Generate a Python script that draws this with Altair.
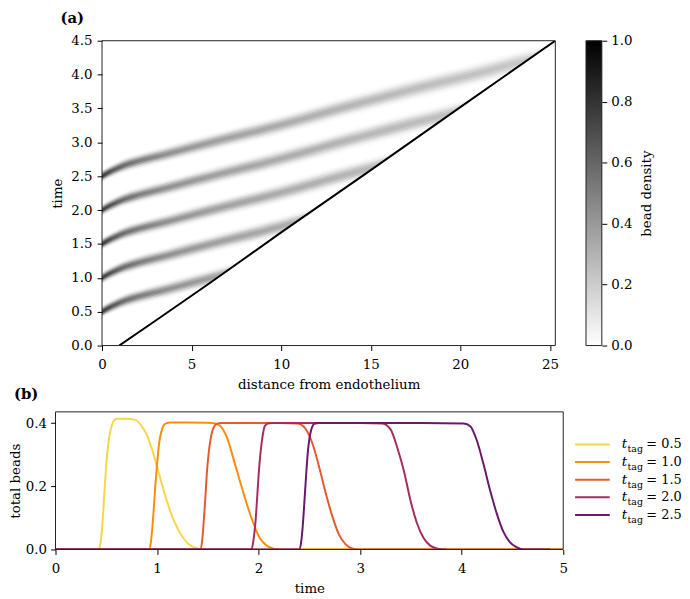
import altair as alt
import pandas as pd

FONT = "DejaVu Serif"
FS = 13.5

# ---------------- panel (a): bead density stripes ----------------
grid_x = [0, 0.4, 0.8, 1.2, 1.6, 2.5, 3.5, 5, 7, 9, 11, 13, 15, 17, 19, 21, 23, 25.3]
stripe_t05 = [0.50, 0.56, 0.61, 0.655, 0.69, 0.755, 0.82, 0.925, 1.06, 1.19, 1.33, 1.48, 1.62, 1.76, 1.89, 2.02, 2.16, 2.30]
stripe_t10 = [1.00, 1.06, 1.11, 1.155, 1.19, 1.255, 1.32, 1.425, 1.56, 1.69, 1.83, 1.98, 2.12, 2.26, 2.39, 2.52, 2.66, 2.80]
stripe_t15 = [1.50, 1.56, 1.61, 1.655, 1.69, 1.755, 1.82, 1.925, 2.06, 2.19, 2.33, 2.48, 2.62, 2.76, 2.89, 3.02, 3.16, 3.30]
stripe_t20 = [2.00, 2.06, 2.11, 2.155, 2.19, 2.255, 2.32, 2.425, 2.56, 2.69, 2.83, 2.98, 3.12, 3.26, 3.39, 3.52, 3.66, 3.80]
stripe_t25 = [2.50, 2.56, 2.61, 2.655, 2.69, 2.755, 2.82, 2.925, 3.06, 3.19, 3.33, 3.48, 3.62, 3.76, 3.89, 4.02, 4.16, 4.30]
stripe_width = [0.036, 0.038, 0.040, 0.042, 0.044, 0.046, 0.048, 0.051, 0.054, 0.057,
                0.059, 0.061, 0.063, 0.065, 0.066, 0.067, 0.068, 0.069]
stripe_names = ["0.5", "1.0", "1.5", "2.0", "2.5"]
stripe_centres = [stripe_t05, stripe_t10, stripe_t15, stripe_t20, stripe_t25]

front_x = [0.96, 3.0, 6.0, 10.0, 15.0, 20.0, 25.3]
front_t = [0.0, 0.37, 0.92, 1.67, 2.59, 3.52, 4.5]

# ---------------- panel (b): total beads ----------------
tag_labels = ["0.5", "1.0", "1.5", "2.0", "2.5"]
tag_colors = ["#f6d746", "#f98e09", "#e45a31", "#a52c60", "#6a176e"]

t_05 = [0, 0.42, 0.44, 0.455, 0.47, 0.485, 0.50, 0.52, 0.54, 0.56, 0.58, 0.61, 0.70, 0.78, 0.85,
        0.90, 0.95, 1.00, 1.05, 1.10, 1.15, 1.20, 1.25, 1.30, 1.35, 1.40, 1.46, 5.0]
v_05 = [0, 0, 0.015, 0.055, 0.12, 0.20, 0.27, 0.335, 0.375, 0.398, 0.41, 0.414, 0.414, 0.411, 0.39,
        0.362, 0.318, 0.262, 0.205, 0.15, 0.104, 0.068, 0.040, 0.020, 0.009, 0.003, 0, 0]
t_10 = [0, 0.92, 0.94, 0.955, 0.97, 0.985, 1.00, 1.02, 1.04, 1.06, 1.09, 1.13, 1.30, 1.50, 1.57,
        1.62, 1.69, 1.75, 1.82, 1.88, 1.95, 2.01, 2.08, 2.14, 2.21, 5.0]
v_10 = [0, 0, 0.025, 0.075, 0.14, 0.21, 0.27, 0.335, 0.37, 0.39, 0.399, 0.402, 0.402, 0.401, 0.399,
        0.392, 0.353, 0.29, 0.212, 0.148, 0.082, 0.037, 0.012, 0.003, 0, 0]
t_15 = [0, 1.425, 1.445, 1.46, 1.475, 1.49, 1.51, 1.53, 1.55, 1.58, 1.63, 1.90, 2.20, 2.38,
        2.42, 2.467, 2.532, 2.597, 2.662, 2.727, 2.792, 2.857, 2.922, 2.99, 5.0]
v_15 = [0, 0, 0.03, 0.09, 0.16, 0.24, 0.31, 0.355, 0.38, 0.396, 0.40, 0.40, 0.40, 0.399,
        0.395, 0.38, 0.334, 0.26, 0.177, 0.104, 0.047, 0.016, 0.003, 0, 0]
t_20 = [0, 1.93, 1.95, 1.97, 1.985, 2.00, 2.02, 2.04, 2.06, 2.09, 2.13, 2.60, 3.00, 3.22,
        3.30, 3.365, 3.43, 3.495, 3.56, 3.625, 3.69, 3.755, 3.82, 3.85]
v_20 = [0, 0, 0.03, 0.09, 0.16, 0.235, 0.31, 0.36, 0.39, 0.399, 0.40, 0.40, 0.40, 0.399,
        0.38, 0.323, 0.25, 0.156, 0.083, 0.036, 0.012, 0.003, 0, 0]
t_25 = [0, 2.40, 2.418, 2.435, 2.45, 2.467, 2.483, 2.50, 2.515, 2.53, 2.548, 2.60, 3.00, 3.60,
        4.02, 4.085, 4.15, 4.214, 4.279, 4.344, 4.409, 4.474, 4.539, 4.60, 4.87]
v_25 = [0, 0, 0.021, 0.075, 0.146, 0.23, 0.302, 0.35, 0.375, 0.39, 0.398, 0.40, 0.40, 0.40,
        0.399, 0.39, 0.344, 0.271, 0.188, 0.115, 0.057, 0.023, 0.007, 0, 0]
curves_t = [t_05, t_10, t_15, t_20, t_25]
curves_v = [v_05, v_10, v_15, v_20, v_25]

# ---------------- tables ----------------
stripes_df = pd.DataFrame(
    [{"stripe": n, "x": x, "c": c, "s": s}
     for n, cs in zip(stripe_names, stripe_centres)
     for x, c, s in zip(grid_x, cs, stripe_width)]
)
front_df = pd.DataFrame({"x": front_x, "t": front_t})
beads_df = pd.DataFrame(
    [{"series": lab, "t": t, "v": v, "i": i}
     for lab, ts, vs in zip(tag_labels, curves_t, curves_v)
     for i, (t, v) in enumerate(zip(ts, vs))]
)
legend_df = pd.DataFrame({"series": tag_labels, "eq": ["= " + s for s in tag_labels]})
one_row = pd.DataFrame({"f": [0]})

# ---------------- shared styling ----------------
SHIFT = 47           # panel (a) sits further right than panel (b)
AW, AH = 458, 308
BW, BH = 513, 139


def axis(values, title, fmt, **kw):
    return alt.Axis(values=values, title=title, format=fmt, grid=False, domain=False,
                    tickSize=5, tickColor="black", tickWidth=1,
                    labelFont=FONT, labelFontSize=FS, labelColor="black",
                    labelFlush=False, labelOverlap=False,
                    titleFont=FONT, titleFontSize=FS, titleFontWeight="normal",
                    titleColor="black", zindex=1, **kw)


xa_scale = alt.Scale(domain=[0, 25.3], nice=False, zero=False, range=[SHIFT, SHIFT + AW])
ya_scale = alt.Scale(domain=[0, 4.5], nice=False, zero=False)
xa_axis = axis([0, 5, 10, 15, 20, 25], "distance from endothelium", "d", labelPadding=7,
               titlePadding=7, titleX=SHIFT + AW / 2)
ya_axis = axis([0, 0.5, 1, 1.5, 2, 2.5, 3, 3.5, 4, 4.5], "time", ".1f", labelPadding=5,
               titlePadding=6, offset=-SHIFT)

grad = alt.LinearGradient(
    gradient="linear", x1=0, x2=1, y1=0, y2=0,
    stops=[
        alt.GradientStop(color="#000000", offset=0.0),
        alt.GradientStop(color="#1c1c1c", offset=0.02),
        alt.GradientStop(color="#383838", offset=0.04),
        alt.GradientStop(color="#555555", offset=0.08),
        alt.GradientStop(color="#6e6e6e", offset=0.14),
        alt.GradientStop(color="#828282", offset=0.24),
        alt.GradientStop(color="#939393", offset=0.40),
        alt.GradientStop(color="#a2a2a2", offset=0.59),
        alt.GradientStop(color="#aeaeae", offset=0.79),
        alt.GradientStop(color="#bababa", offset=1.0),
    ],
)

band_k = [0.5, 1.0, 1.5, 2.0, 2.5]
band_op = [0.40, 0.35, 0.25, 0.12, 0.05]

layers_a = []
for k, op in zip(band_k, band_op):
    layers_a.append(
        alt.Chart(stripes_df)
        .transform_calculate(lo=f"datum.c - {k} * datum.s", hi=f"datum.c + {k} * datum.s")
        .mark_area(color=grad, opacity=op, clip=True, interpolate="monotone")
        .encode(
            x=alt.X("x:Q", scale=xa_scale, axis=xa_axis),
            y=alt.Y("lo:Q", scale=ya_scale, axis=ya_axis, stack=None),
            y2="hi:Q",
            detail="stripe:N",
        )
    )

cover = alt.Chart(front_df).mark_area(color="white", opacity=1, clip=True).encode(
    x=alt.X("x:Q", scale=xa_scale, axis=xa_axis),
    y=alt.Y("t:Q", scale=ya_scale, axis=ya_axis, stack=None),
    y2=alt.datum(0),
)
front = alt.Chart(front_df).mark_line(color="black", strokeWidth=2, clip=True).encode(
    x=alt.X("x:Q", scale=xa_scale, axis=xa_axis),
    y=alt.Y("t:Q", scale=ya_scale, axis=ya_axis),
)
frame_a = alt.Chart(one_row).mark_rect(fillOpacity=0, stroke="#222222", strokeWidth=1).encode(
    x=alt.value(SHIFT), x2=alt.value(SHIFT + AW), y=alt.value(0), y2=alt.value(AH)
)
# panel letters
label_a = alt.Chart(one_row).mark_text(text="(a)", font=FONT, fontSize=15, fontWeight="bold",
                                       align="left", baseline="alphabetic", color="black").encode(
    x=alt.value(SHIFT - 42), y=alt.value(-18))
label_b = alt.Chart(one_row).mark_text(text="(b)", font=FONT, fontSize=15, fontWeight="bold",
                                       align="left", baseline="alphabetic", color="black").encode(
    x=alt.value(-42), y=alt.value(AH + 54))

panel_a = alt.layer(*layers_a, cover, front, frame_a, label_a, label_b).properties(
    width=SHIFT + AW, height=AH)

# colour bar
cb_df = pd.DataFrame({"lo": [0.0], "hi": [1.0]})
cb_grad = alt.LinearGradient(
    gradient="linear", x1=0, x2=0, y1=1, y2=0,
    stops=[alt.GradientStop(color="#ffffff", offset=0.0), alt.GradientStop(color="#000000", offset=1.0)],
)
colorbar = alt.Chart(cb_df).mark_rect(color=cb_grad, stroke="#222222", strokeWidth=1).encode(
    x=alt.value(0), x2=alt.value(16),
    y=alt.Y("lo:Q", scale=alt.Scale(domain=[0, 1], nice=False),
            axis=axis([0, 0.2, 0.4, 0.6, 0.8, 1.0], "bead density", ".1f",
                      orient="right", labelPadding=4, titlePadding=8, titleAngle=270,
                      titleBaseline="top")),
    y2="hi:Q",
).properties(width=16, height=AH)

# ---------------- panel (b) ----------------
color_scale = alt.Scale(domain=tag_labels, range=tag_colors)
xb = alt.X("t:Q", scale=alt.Scale(domain=[0, 5], nice=False),
           axis=axis([0, 1, 2, 3, 4, 5], "time", "d", labelPadding=7, titlePadding=7))
yb = alt.Y("v:Q", scale=alt.Scale(domain=[0, 0.4356], nice=False),
           axis=axis([0, 0.2, 0.4], "total beads", ".1f", labelPadding=4, titlePadding=3))
lines_b = alt.Chart(beads_df).mark_line(strokeWidth=2, interpolate="monotone", clip=True).encode(
    x=xb, y=yb,
    color=alt.Color("series:N", scale=color_scale, legend=None),
    order="i:Q",
)
frame_b = alt.Chart(one_row).mark_rect(fillOpacity=0, stroke="#222222", strokeWidth=1).encode(
    x=alt.value(0), x2=alt.value(BW), y=alt.value(0), y2=alt.value(BH)
)
panel_b = alt.layer(lines_b, frame_b).properties(width=BW, height=BH)

# manual legend
ly = alt.Y("series:N", scale=alt.Scale(domain=tag_labels, range=[24, 113]), axis=None)
leg_lines = alt.Chart(legend_df).mark_rule(strokeWidth=2).encode(
    x=alt.value(0), x2=alt.value(35), y=ly,
    color=alt.Color("series:N", scale=color_scale, legend=None),
)
leg_t = alt.Chart(legend_df).mark_text(text="t", font=FONT, fontSize=FS, fontStyle="italic",
                                       align="left", baseline="alphabetic", dy=4, color="black").encode(
    x=alt.value(47), y=ly)
leg_sub = alt.Chart(legend_df).mark_text(text="tag", font=FONT, fontSize=9.5,
                                         align="left", baseline="alphabetic", dy=8, color="black").encode(
    x=alt.value(53), y=ly)
leg_eq = alt.Chart(legend_df).mark_text(font=FONT, fontSize=13, align="left",
                                        baseline="alphabetic", dy=4, color="black").encode(
    x=alt.value(72), y=ly, text="eq:N")
legend = alt.layer(leg_lines, leg_t, leg_sub, leg_eq).properties(width=100, height=BH)

row1 = alt.hconcat(panel_a, colorbar, spacing=26)
row2 = alt.hconcat(panel_b, legend, spacing=6)
chart = alt.vconcat(row1, row2, spacing=9).properties(padding=0).configure(
    font=FONT, background="white").configure_view(stroke=None)

chart.save("out.html", embed_options={"renderer": "svg", "actions": False})
